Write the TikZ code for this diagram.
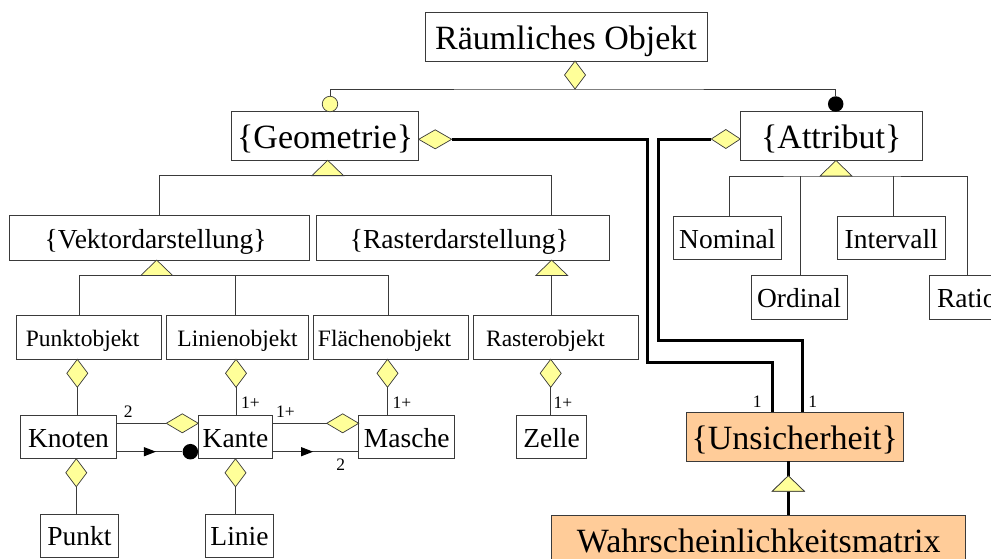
\documentclass[tikz,border=0pt]{standalone}
\usepackage{fontspec}
\setmainfont{Liberation Serif}
\usetikzlibrary{shapes.geometric, decorations.markings, arrows.meta}
\definecolor{lc}{HTML}{3A3A3A}
\definecolor{yel}{HTML}{FFFF99}
\definecolor{peach}{HTML}{FFCC99}

\tikzset{
  gentri/.pic={
    \draw[lc, fill=yel, line width=0.7pt] (0,0) -- (-16,15.5) -- (16,15.5) -- cycle;
    \coordinate (-apex) at (0,0);
    \coordinate (-base) at (0,15.5);
  }
}

\begin{document}
\begin{tikzpicture}[x=1pt, y=-1pt,
  box/.style={draw=lc, line width=1pt, fill=white, inner sep=0pt, outer sep=0pt, text depth=0pt},
  big/.style={font=\fontsize{34}{40}\selectfont, text height=25pt, minimum height=49pt},
  mid/.style={font=\fontsize{27.5}{33}\selectfont, text height=20.3pt, minimum height=43.7pt},
  sml/.style={font=\fontsize{23.5}{28}\selectfont, text height=17.3pt, minimum height=43.6pt},
  lbl/.style={font=\fontsize{17.5}{20}\selectfont, inner sep=0pt},
  vdia/.style={diamond, draw=lc, fill=yel, line width=0.7pt, minimum width=21pt, minimum height=28pt, inner sep=0pt, outer sep=0pt},
  hdia/.style={diamond, draw=lc, fill=yel, line width=0.7pt, minimum width=32pt, minimum height=19pt, inner sep=0pt, outer sep=0pt},
  ln/.style={draw=lc, line width=1pt},
  heavy/.style={draw=black, line width=3pt},
  midarrow/.style={postaction={decorate}, decoration={markings, mark=at position #1 with {\arrow[black]{Triangle[length=12pt, width=9pt]}}}}
]
\useasboundingbox (0,0) rectangle (991,558);
\clip (0,0) rectangle (991,558);

% classes
\node[box,big,minimum width=282pt] (rao) at (566,36.5) {Räumliches Objekt};
\node[box,big,minimum width=187pt] (geo) at (325.2,135.8) {\{Geometrie\}};
\node[box,big,minimum width=182pt] (att) at (831.3,136) {\{Attribut\}};

\node[box,mid,minimum width=300.3pt,minimum height=44.3pt] (vek) at (159.2,237.9) {\{Vektordarstellung\}\hspace*{7pt}};
\node[box,mid,minimum width=293.3pt,minimum height=44.3pt] (ras) at (463.3,237.9) {\{Rasterdarstellung\}\hspace*{8pt}};
\node[box,mid,minimum width=108pt] (nom) at (727.3,237.9) {Nominal};
\node[box,mid,minimum width=108pt] (int) at (891.3,237.9) {Intervall};
\node[box,mid,minimum width=96pt] (ord) at (799,297.4) {Ordinal};
\node[box,mid,minimum width=72pt] (rat) at (965.3,297.4) {Ratio\hspace*{-3pt}};

\node[box,sml,minimum width=145pt] (pob) at (88.5,337.5) {Punktobjekt\hspace*{11.6pt}};
\node[box,sml,minimum width=141.6pt] (lob) at (237.5,337.5) {Linienobjekt};
\node[box,sml,minimum width=155pt] (fob) at (390.8,337.5) {Flächenobjekt\hspace*{12.6pt}};
\node[box,sml,minimum width=164.7pt] (rob) at (555.7,337.5) {Rasterobjekt\hspace*{20.4pt}};

\node[box,mid,minimum width=95.6pt] (kno) at (68.5,436.9) {Knoten};
\node[box,mid,minimum width=74.4pt] (kan) at (235.5,436.9) {Kante};
\node[box,mid,minimum width=96pt] (mas) at (406.7,436.9) {Masche};
\node[box,mid,minimum width=70pt] (zel) at (551.5,436.9) {Zelle};
\node[box,big,fill=peach,minimum width=216.7pt,minimum height=48.7pt] (uns) at (794.7,436.7) {\{Unsicherheit\}};

\node[box,mid,minimum width=77.6pt,minimum height=42.7pt] (pun) at (79.5,535.7) {Punkt};
\node[box,mid,minimum width=67.6pt,minimum height=42.7pt] (lin) at (239.5,535.7) {Linie};
\node[box,big,fill=peach,minimum width=414pt,minimum height=50pt] (wah) at (758.7,540) {Wahrscheinlichkeitsmatrix};

% aggregation diamonds
\node[vdia, anchor=north] (d0) at ([xshift=9pt]rao.south) {};
\node[hdia, anchor=west, minimum width=33pt] (dg) at ([yshift=-3.5pt]geo.east) {};
\node[hdia, anchor=east, minimum width=29pt] (da) at ([yshift=-3pt]att.west) {};
\node[vdia, anchor=north] (dp) at ([xshift=-11.2pt]pob.south) {};
\node[vdia, anchor=north] (dl) at ([xshift=-1.5pt]lob.south) {};
\node[vdia, anchor=north] (df) at ([xshift=-3.3pt]fob.south) {};
\node[vdia, anchor=north] (dr) at ([xshift=-5pt]rob.south) {};
\node[vdia, anchor=north] (dkb) at ([xshift=7.8pt]kno.south) {};
\node[vdia, anchor=north] (dnb) at (kan.south) {};
\node[hdia, anchor=east] (dkk) at ([yshift=13.6pt]kan.west) {};
\node[hdia, anchor=east] (dkm) at ([yshift=13.6pt]mas.west) {};

% association ends
\node[circle, fill=black, minimum size=15.5pt, inner sep=0pt, anchor=east] (bk) at ([yshift=-14.8pt]kan.west) {};
\node[circle, draw=lc, fill=yel, line width=0.7pt, minimum size=15.5pt, inner sep=0pt] (c1) at (330,104) {};
\node[circle, fill=black, minimum size=15.5pt, inner sep=0pt] (c2) at (835.7,104) {};

% generalisation triangles
\pic (tg) at ([xshift=2.5pt]geo.south) {gentri};
\pic (tv) at ([xshift=-2.5pt]vek.south) {gentri};
\pic (tr) at ([xshift=88.4pt]ras.south) {gentri};
\pic (ta) at ([xshift=4.7pt]att.south) {gentri};
\pic (tu) at ([xshift=-6.4pt,yshift=-14.7pt]uns.south) {gentri};

% thin connectors
\draw[ln] (c1.north) |- (d0.south) -| (c2.north);
\draw[ln] (vek.north) |- (tg-base) -| ([xshift=88.4pt]ras.north);
\draw[ln] (tr-base) -- (rob.north -| tr-base);
\draw[ln] ([xshift=-9.2pt]pob.north) |- (tv-base) -| ([xshift=-2.5pt]fob.north);
\draw[ln] ([xshift=-1.8pt]lob.north) -- ++(0,-39.7);
\draw[ln] ([xshift=2pt]nom.north) |- (ta-base) -| ([xshift=2pt]rat.north);
\draw[ln] ([xshift=1pt]ord.north) -- ++(0,-99.7);
\draw[ln] ([xshift=2.4pt]int.north) -- ++(0,-40);

\draw[ln] (dp.south) -- (kno.north -| dp.south);
\draw[ln] (dl.south) -- (kan.north -| dl.south);
\draw[ln] (df.south) -- (mas.north -| df.south);
\draw[ln] (dr.south) -- (zel.north -| dr.south);
\draw[ln] (dkb.south) -- (pun.north -| dkb.south);
\draw[ln] (dnb.south) -- (lin.north -| dnb.south);
\draw[ln] ([yshift=13.6pt]kno.east) -- (dkk.west);
\draw[ln] ([yshift=13.6pt]kan.east) -- (dkm.west);
\draw[ln, midarrow=0.6] ([yshift=-14.8pt]kno.east) -- (bk.west);
\draw[ln, midarrow=0.47] ([yshift=-14.8pt]kan.east) -- ([yshift=-14.8pt]mas.west);

% uncertainty links
\draw[heavy] (dg.east) -- ++(195.8,0) -- ++(0,223) -| ([xshift=-22.4pt]uns.north);
\draw[heavy] (da.west) -- ++(-52.4,0) -- ++(0,201.7) -| ([xshift=8pt]uns.north);
\draw[heavy] ([xshift=-6.4pt]uns.south) -- (tu-apex);
\draw[heavy] (tu-base) -- (wah.north -| tu-base);
\pic at ([xshift=-6.4pt,yshift=-14.7pt]uns.south) {gentri};

% multiplicities
\node[lbl] (m1) at (128.3,411.7) {2};
\node[lbl] (m2) at (250.5,403) {1+};
\node[lbl] (m3) at (285.5,411.7) {1+};
\node[lbl] (m4) at (402,403) {1+};
\node[lbl] (m5) at (340.7,465) {2};
\node[lbl] (m6) at (563,402.3) {1+};
\node[lbl] (m7) at (757.3,401.7) {1};
\node[lbl] (m8) at (812.7,401.7) {1};
\end{tikzpicture}
\end{document}
